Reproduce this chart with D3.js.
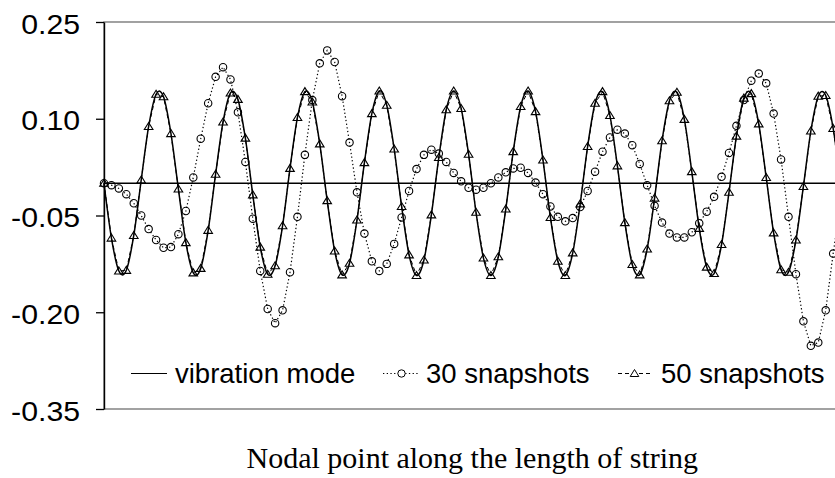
<!DOCTYPE html>
<html>
<head>
<meta charset="utf-8">
<script src="https://cdn.jsdelivr.net/npm/d3@7"></script>
<style>
  html, body { margin: 0; padding: 0; background: #fff; }
  svg { display: block; }
</style>
</head>
<body>
<svg id="chart" width="835" height="478"></svg>
<script>
// vibration mode of the string vs. the modes rebuilt from 30 and 50 snapshots
// one value per nodal point (0..99)

// y axis ticks and their printed labels (plain hyphen minus, like the original)
const yTicks = [0.25, 0.10, -0.05, -0.20, -0.35];
const yTickLabels = ["0.25", "0.10", "-0.05", "-0.20", "-0.35"];

const seriesNames = ["vibration mode", "30 snapshots", "50 snapshots"];

// exact mode shape
const modeValues = [
  0.000, -0.085, -0.136, -0.135, -0.081, 0.005, 0.088, 0.138, 0.134, 0.077,
  -0.009, -0.092, -0.139, -0.132, -0.073, 0.014, 0.095, 0.140, 0.130, 0.070,
  -0.018, -0.099, -0.141, -0.128, -0.066, 0.023, 0.102, 0.142, 0.126, 0.061,
  -0.027, -0.105, -0.142, -0.124, -0.057, 0.032, 0.108, 0.143, 0.121, 0.053,
  -0.036, -0.111, -0.143, -0.119, -0.049, 0.040, 0.114, 0.143, 0.116, 0.045,
  -0.045, -0.116, -0.143, -0.114, -0.040, 0.049, 0.119, 0.143, 0.111, 0.036,
  -0.053, -0.121, -0.143, -0.108, -0.032, 0.057, 0.124, 0.142, 0.105, 0.027,
  -0.061, -0.126, -0.142, -0.102, -0.023, 0.066, 0.128, 0.141, 0.099, 0.018,
  -0.070, -0.130, -0.140, -0.095, -0.014, 0.073, 0.132, 0.139, 0.092, 0.009,
  -0.077, -0.134, -0.138, -0.088, -0.005, 0.081, 0.135, 0.136, 0.085, 0.000
];

// reconstruction from 30 snapshots (visibly off)
const snap30Values = [
  0.000, -0.003, -0.008, -0.017, -0.031, -0.050, -0.071, -0.088, -0.100, -0.099,
  -0.079, -0.043, 0.009, 0.069, 0.124, 0.165, 0.180, 0.161, 0.110, 0.033,
  -0.055, -0.136, -0.195, -0.217, -0.197, -0.138, -0.052, 0.044, 0.129, 0.186,
  0.206, 0.188, 0.135, 0.063, -0.014, -0.078, -0.121, -0.136, -0.125, -0.094,
  -0.053, -0.012, 0.022, 0.044, 0.052, 0.046, 0.033, 0.016, 0.003, -0.007,
  -0.010, -0.007, 0.000, 0.009, 0.017, 0.023, 0.024, 0.016, 0.001, -0.017,
  -0.036, -0.052, -0.059, -0.054, -0.037, -0.012, 0.018, 0.049, 0.071, 0.083,
  0.077, 0.059, 0.030, -0.003, -0.035, -0.061, -0.078, -0.084, -0.084, -0.076,
  -0.062, -0.044, -0.021, 0.010, 0.047, 0.089, 0.129, 0.159, 0.170, 0.155,
  0.108, 0.037, -0.052, -0.141, -0.214, -0.252, -0.247, -0.197, -0.109, -0.030
];

// reconstruction from 50 snapshots (sits on the mode)
const snap50Values = [
  0.000, -0.085, -0.136, -0.135, -0.081, 0.005, 0.088, 0.138, 0.134, 0.077,
  -0.009, -0.092, -0.139, -0.132, -0.073, 0.014, 0.095, 0.140, 0.130, 0.070,
  -0.018, -0.099, -0.141, -0.128, -0.066, 0.023, 0.102, 0.142, 0.126, 0.061,
  -0.027, -0.105, -0.142, -0.124, -0.057, 0.032, 0.108, 0.143, 0.121, 0.053,
  -0.036, -0.111, -0.143, -0.119, -0.049, 0.040, 0.114, 0.143, 0.116, 0.045,
  -0.045, -0.116, -0.143, -0.114, -0.040, 0.049, 0.119, 0.143, 0.111, 0.036,
  -0.053, -0.121, -0.143, -0.108, -0.032, 0.057, 0.124, 0.142, 0.105, 0.027,
  -0.061, -0.126, -0.142, -0.102, -0.023, 0.066, 0.128, 0.141, 0.099, 0.018,
  -0.070, -0.130, -0.140, -0.095, -0.014, 0.073, 0.132, 0.139, 0.092, 0.009,
  -0.077, -0.134, -0.138, -0.088, -0.005, 0.081, 0.135, 0.136, 0.085, 0.000
];

const xTitle = "Nodal point along the length of string";

// ---- layout ----
const svg = d3.select("#chart");
const W = 835, H = 478;
const plot = { left: 104, top: 22, right: 840.6, bottom: 409 };
const sansFont = "'Liberation Sans', Arial, sans-serif";

svg.append("rect").attr("width", W).attr("height", H).attr("fill", "#fff");

// nodal points: first at the left edge, last one just past the picture edge
const x = d3.scaleLinear()
  .domain([0, modeValues.length - 1])
  .range([plot.left, plot.right]);

const y = d3.scaleLinear()
  .domain([d3.min(yTicks), d3.max(yTicks)])
  .range([plot.bottom, plot.top]);

const toPoints = (vals) => vals.map((v, i) => [i, v]);

// plot area frame (grey)
svg.append("rect")
  .attr("x", plot.left)
  .attr("y", plot.top)
  .attr("width", plot.right - plot.left)
  .attr("height", plot.bottom - plot.top)
  .attr("fill", "none")
  .attr("stroke", "#707070")
  .attr("stroke-width", 1.3);

// category axis crosses at zero
svg.append("line")
  .attr("x1", plot.left)
  .attr("x2", plot.right)
  .attr("y1", y(0))
  .attr("y2", y(0))
  .attr("stroke", "#000")
  .attr("stroke-width", 1.3);

// value axis
const yAxis = svg.append("g")
  .attr("transform", `translate(${plot.left},0)`)
  .call(
    d3.axisLeft(y)
      .tickValues(yTicks)
      .tickFormat((d, i) => yTickLabels[i])
      .tickSize(8)
      .tickSizeOuter(0)
      .tickPadding(16)
  );

yAxis.select(".domain").attr("stroke", "#000").attr("stroke-width", 1.4);
yAxis.selectAll(".tick line").attr("stroke", "#000").attr("stroke-width", 1.3);
// labels in the original are a bit wider than plain Arial
yAxis.selectAll(".tick text")
  .attr("x", 0)
  .attr("transform", "translate(-24,0) scale(1.08,1)")
  .attr("font-family", sansFont)
  .attr("font-size", 28)
  .attr("fill", "#000")
  .attr("dy", "0.4em");

// ---- series ----
const straight = d3.line()
  .x((d) => x(d[0]))
  .y((d) => y(d[1]));

const smooth = d3.line()
  .x((d) => x(d[0]))
  .y((d) => y(d[1]))
  .curve(d3.curveCatmullRom.alpha(0));

const g = svg.append("g");

// 50 snapshots: dashed, hidden under the mode line
g.append("path")
  .datum(toPoints(snap50Values))
  .attr("d", straight)
  .attr("fill", "none")
  .attr("stroke", "#000")
  .attr("stroke-width", 1)
  .attr("stroke-dasharray", "4,3");

// 30 snapshots: dotted
g.append("path")
  .datum(toPoints(snap30Values))
  .attr("d", straight)
  .attr("fill", "none")
  .attr("stroke", "#000")
  .attr("stroke-width", 1.2)
  .attr("stroke-dasharray", "1.3,2.4");

// vibration mode: smoothed solid line
g.append("path")
  .datum(toPoints(modeValues))
  .attr("d", smooth)
  .attr("fill", "none")
  .attr("stroke", "#000")
  .attr("stroke-width", 1.5);

// hollow circle markers
g.selectAll("circle.snap30")
  .data(toPoints(snap30Values))
  .enter()
  .append("circle")
  .attr("class", "snap30")
  .attr("cx", (d) => x(d[0]))
  .attr("cy", (d) => y(d[1]))
  .attr("r", 3.7)
  .attr("fill", "none")
  .attr("stroke", "#000")
  .attr("stroke-width", 1.1);

// hollow triangle markers
const tri = "M0,-4L4.3,3L-4.3,3Z";
g.selectAll("path.snap50")
  .data(toPoints(snap50Values))
  .enter()
  .append("path")
  .attr("class", "snap50")
  .attr("d", tri)
  .attr("transform", (d) => `translate(${x(d[0])},${y(d[1])})`)
  .attr("fill", "none")
  .attr("stroke", "#000")
  .attr("stroke-width", 1.1);

// ---- legend ----
const legendY = 373.5;
const legendItems = [
  { name: seriesNames[0], x0: 131, x1: 167, tx: 175, dash: null, marker: null },
  { name: seriesNames[1], x0: 383, x1: 420, tx: 426, dash: "1.3,2.4", marker: "circle" },
  { name: seriesNames[2], x0: 618, x1: 651, tx: 661, dash: "4,3", marker: "tri" }
];

const leg = svg.append("g");
legendItems.forEach((it) => {
  leg.append("line")
    .attr("x1", it.x0)
    .attr("x2", it.x1)
    .attr("y1", legendY)
    .attr("y2", legendY)
    .attr("stroke", "#000")
    .attr("stroke-width", 1.2)
    .attr("stroke-dasharray", it.dash);
  const mx = (it.x0 + it.x1) / 2;
  if (it.marker === "circle") {
    leg.append("circle")
      .attr("cx", mx).attr("cy", legendY).attr("r", 3.7)
      .attr("fill", "#fff").attr("stroke", "#000");
  } else if (it.marker === "tri") {
    leg.append("path")
      .attr("d", tri)
      .attr("transform", `translate(${mx},${legendY})`)
      .attr("fill", "#fff").attr("stroke", "#000");
  }
  leg.append("text")
    .attr("x", it.tx)
    .attr("y", legendY)
    .attr("dy", "0.36em")
    .attr("font-family", sansFont)
    .attr("font-size", 27.5)
    .attr("fill", "#000")
    .text(it.name);
});

// ---- x axis title ----
svg.append("text")
  .attr("x", (plot.left + plot.right) / 2)
  .attr("y", 468)
  .attr("text-anchor", "middle")
  .attr("font-family", "'Liberation Serif', 'Times New Roman', serif")
  .attr("font-size", 30)
  .attr("fill", "#000")
  .text(xTitle);
</script>
</body>
</html>
